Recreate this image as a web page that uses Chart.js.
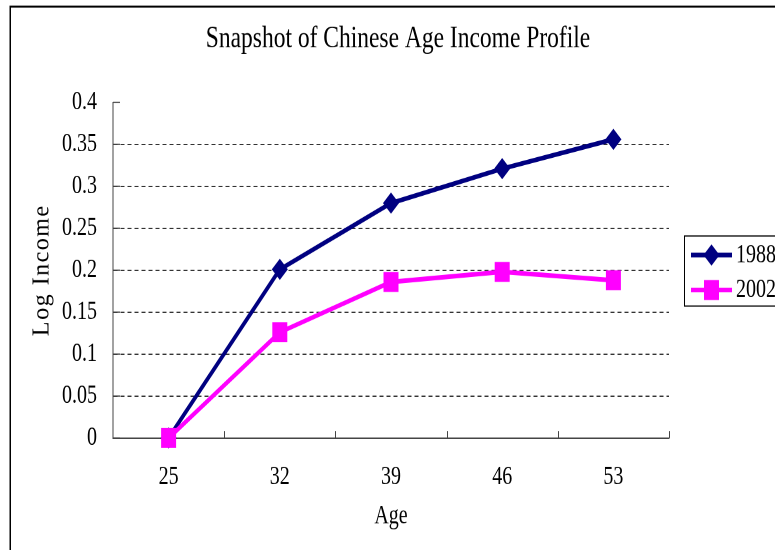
<!DOCTYPE html>
<html>
<head>
<meta charset="utf-8">
<title>Snapshot of Chinese Age Income Profile</title>
<script src="https://cdn.jsdelivr.net/npm/chart.js@4.4.0/dist/chart.umd.min.js"></script>
<style>
  html, body { margin: 0; padding: 0; background: #fff; overflow: hidden; }
  /* drawn squat, then stretched tall so glyphs and markers come out narrow */
  #wrap {
    position: absolute; left: 0; top: 0;
    width: 775px; height: 413px;
    transform: scaleY(1.3317); transform-origin: 0 0;
  }
</style>
</head>
<body>
<div id="wrap"><canvas id="ageChart"></canvas></div>
<script>
const ages = ['25', '32', '39', '46', '53'];
const seriesNames = ['1988', '2002'];
const income1988 = [0, 0.201, 0.280, 0.321, 0.356];
const income2002 = [0, 0.126, 0.186, 0.198, 0.188];
const yMin = 0;
const yMax = 0.4;
const yStep = 0.05;
const yTitle = 'Log Income';

const stretch = 1.3317;
const serif = "'Liberation Serif', 'Times New Roman', serif";

// frame, inward tick marks, the rotated y title and the boxed legend
const decor = {
    id: 'decor',
    beforeDraw(chart) {
        const ctx = chart.ctx;
        ctx.save();
        ctx.strokeStyle = '#000';
        ctx.lineWidth = 1.5;
        ctx.strokeRect(10.25, 5, chart.width + 50, chart.height + 50);
        ctx.restore();
    },
    afterDraw(chart) {
        const ctx = chart.ctx;
        const xs = chart.scales.x;
        const ys = chart.scales.y;
        ctx.save();
        ctx.strokeStyle = '#444';
        ctx.lineWidth = 1;
        ctx.beginPath();
        ys.ticks.forEach(t => {
            const py = ys.getPixelForValue(t.value);
            ctx.moveTo(ys.right, py);
            ctx.lineTo(ys.right + 7, py);
        });
        const n = xs.ticks.length;
        const step = xs.width / n;
        for (let i = 1; i <= n; i++) {
            const px = Math.round(xs.left + i * step) + 0.5;
            ctx.moveTo(px, xs.top);
            ctx.lineTo(px, xs.top - 5.3);
        }
        ctx.stroke();

        // y title, squeezed back so it is not widened by the stretch
        ctx.save();
        ctx.translate(42, (ys.top + ys.bottom) / 2);
        ctx.scale(1, 1 / stretch);
        ctx.rotate(-Math.PI / 2);
        ctx.fillStyle = '#000';
        ctx.font = '24px ' + serif;
        if ('letterSpacing' in ctx) ctx.letterSpacing = '1.5px';
        ctx.textAlign = 'center';
        ctx.textBaseline = 'middle';
        ctx.fillText(yTitle, 0, 0);
        ctx.restore();

        // legend
        const boxLeft = 684.5, boxTop = 177.2, boxBottom = 229.8;
        ctx.strokeStyle = '#000';
        ctx.lineWidth = 1;
        ctx.strokeRect(boxLeft, boxTop, 200, boxBottom - boxTop);
        chart.data.datasets.forEach((ds, i) => {
            const cy = boxTop + 14.3 + i * 26.3;
            ctx.strokeStyle = ds.borderColor;
            ctx.lineWidth = ds.borderWidth;
            ctx.beginPath();
            ctx.moveTo(691, cy);
            ctx.lineTo(732, cy);
            ctx.stroke();
            ctx.fillStyle = ds.backgroundColor;
            Chart.helpers.drawPoint(ctx, {
                pointStyle: ds.pointStyle,
                radius: ds.pointRadius,
                rotation: 0,
                borderWidth: 0
            }, 711.5, cy);
            ctx.fillStyle = '#000';
            ctx.font = '20px ' + serif;
            ctx.textAlign = 'left';
            ctx.textBaseline = 'middle';
            ctx.fillText(ds.label, 736, cy);
        });
        ctx.restore();
    }
};

const ctx = document.getElementById('ageChart').getContext('2d');
const ageChart = new Chart(ctx, {
    type: 'line',
    data: {
        labels: ages,
        datasets: [{
            label: seriesNames[0],
            data: income1988,
            borderColor: '#000080',
            backgroundColor: '#000080',
            borderWidth: 3.5,
            pointStyle: 'rectRot',
            pointRadius: 8,
            pointHoverRadius: 8,
            pointBorderWidth: 0,
            tension: 0,
            clip: false,
            order: 1
        },
        {
            label: seriesNames[1],
            data: income2002,
            borderColor: '#ff00ff',
            backgroundColor: '#ff00ff',
            borderWidth: 3.5,
            pointStyle: 'rect',
            pointRadius: 10.6,
            pointHoverRadius: 10.6,
            pointBorderWidth: 0,
            tension: 0,
            clip: false,
            order: 0
        }]
    },
    options: {
        responsive: true,
        maintainAspectRatio: false,
        devicePixelRatio: 2,
        animation: false,
        events: [],
        layout: { padding: { left: 21, right: 0, top: 0, bottom: 0 } },
        plugins: {
            legend: { display: false },
            tooltip: { enabled: false },
            title: {
                display: true,
                text: 'Snapshot of Chinese Age Income Profile',
                color: '#000',
                font: { family: serif, size: 23.5, weight: 'normal' },
                padding: { top: 15.2, bottom: 33.5 }
            }
        },
        scales: {
            x: {
                type: 'category',
                offset: true,
                grid: { display: false, drawTicks: false, offset: true },
                border: { display: true, color: '#444', width: 1 },
                ticks: {
                    padding: 17.3,
                    color: '#000',
                    maxRotation: 0,
                    autoSkip: false,
                    font: { family: serif, size: 20 }
                },
                title: {
                    display: true,
                    text: 'Age',
                    color: '#000',
                    font: { family: serif, size: 20 },
                    padding: { top: 0, bottom: 13.5 }
                },
                afterFit: s => { s.height = 84.1; }
            },
            y: {
                min: yMin,
                max: yMax,
                grid: {
                    drawTicks: false,
                    lineWidth: 1,
                    color: c => (c.tick && c.tick.value > 1e-9 && c.tick.value < yMax - 1e-9) ? '#333' : 'rgba(0,0,0,0)'
                },
                border: { display: true, color: '#444', width: 1, dash: [4, 3] },
                ticks: {
                    stepSize: yStep,
                    padding: 16,
                    color: '#000',
                    font: { family: serif, size: 20 },
                    callback: v => String(Number(v.toFixed(2)))
                },
                afterFit: s => { s.width = 92; }
            },
            // empty right-hand band that holds the legend
            spacer: {
                type: 'linear',
                position: 'right',
                grid: { display: false, drawTicks: false },
                border: { display: false },
                ticks: { display: false },
                afterFit: s => { s.width = 106; }
            }
        }
    },
    plugins: [decor]
});
</script>
</body>
</html>
